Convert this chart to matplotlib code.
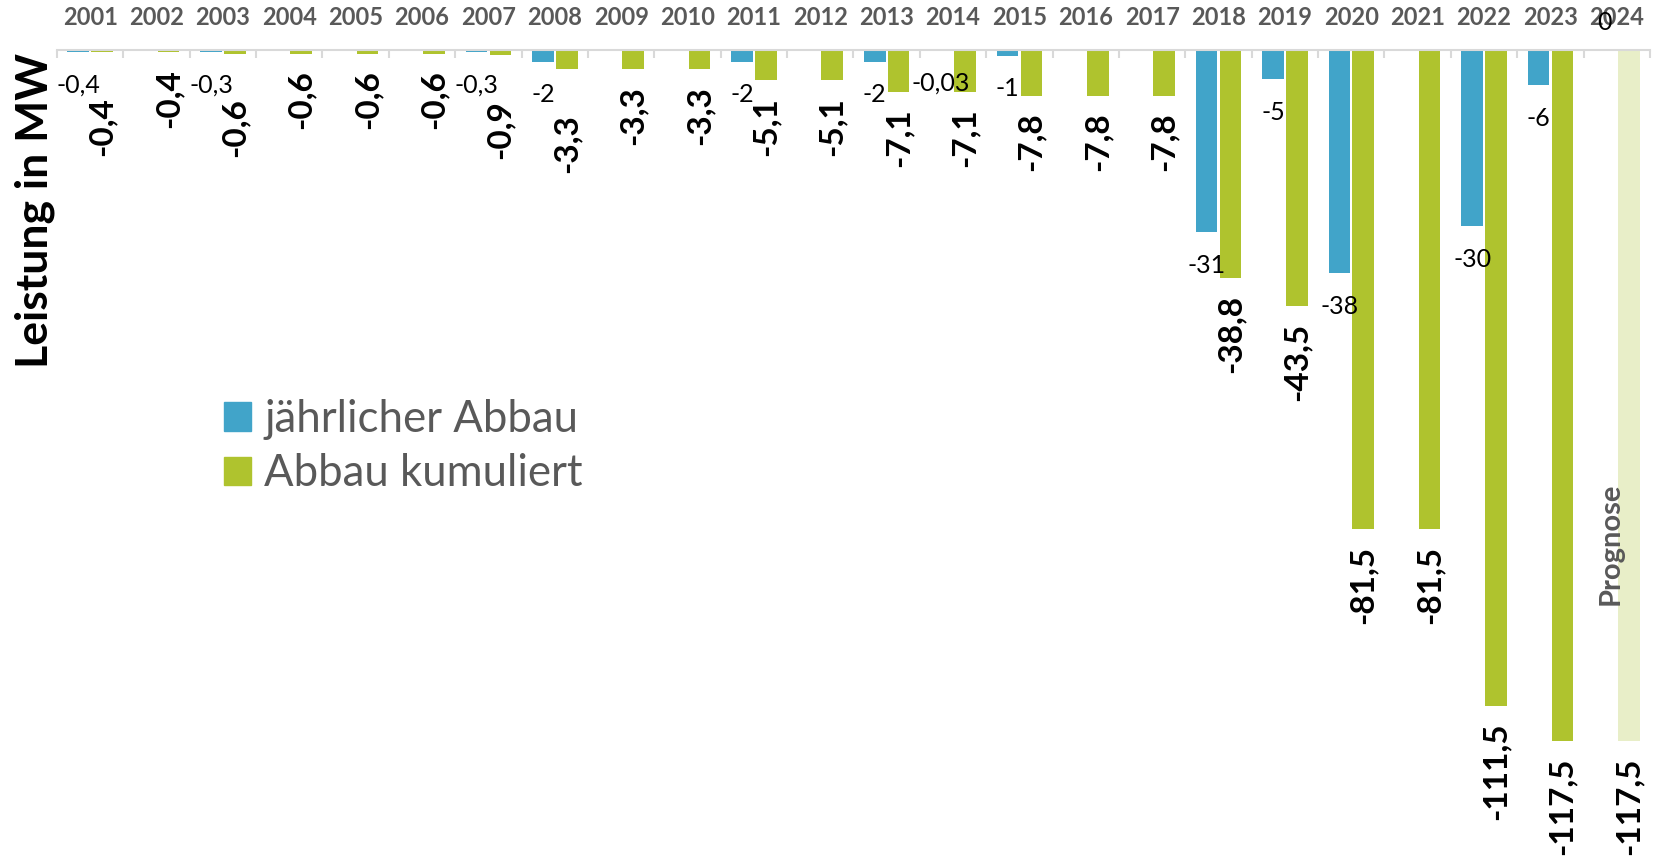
import matplotlib
matplotlib.use("Agg")
import matplotlib.pyplot as plt
from matplotlib.patches import Patch

plt.rcParams['font.family'] = ['Lato', 'DejaVu Sans']

# ---- data ----
years = [str(y) for y in range(2001, 2025)]
annual = [-0.4, None, -0.3, None, None, None, -0.3, -2, None, None, -2, None,
          -2, -0.03, -1, None, None, -31, -5, -38, None, -30, -6, 0]
cumulative = [-0.4, -0.4, -0.6, -0.6, -0.6, -0.6, -0.9, -3.3, -3.3, -3.3, -5.1, -5.1,
              -7.1, -7.1, -7.8, -7.8, -7.8, -38.8, -43.5, -81.5, -81.5, -111.5, -117.5, -117.5]
forecast_year = "2024"
series_names = ["jährlicher Abbau", "Abbau kumuliert"]
pushed_labels = ["2001", "2003", "2007", "2008"]   # cumulative labels moved down

BLUE = "#41a4c9"
GREEN = "#afc32e"
LIGHT = "#e8eec8"
GRAY = "#595959"

W, H = 1658, 857
fig = plt.figure(figsize=(W / 100, H / 100), dpi=100)
ax = fig.add_axes([57 / W, 0, 1593 / W, 1 - 50 / H])

def fmt(v):
    return f"{v:g}".replace(".", ",")

x = list(range(len(years)))
off, bw = 0.18, 0.325

for i, (yr, a, c) in enumerate(zip(years, annual, cumulative)):
    col = LIGHT if yr == forecast_year else GREEN
    ax.bar(i + off, c, width=bw, color=col, linewidth=0)
    if a is not None and a != 0:
        ax.bar(i - off, a, width=bw, color=BLUE, linewidth=0)
    # annual labels
    if a is not None:
        dy = -33 if a != 0 else 27
        ax.annotate(fmt(a), (i - off, a), xytext=(0, dy), textcoords="offset pixels",
                    ha="center", va="center", fontsize=18, color="black")
    # cumulative labels
    gap = 45 if yr in pushed_labels else 17
    ax.annotate(fmt(c), (i + off, c), xytext=(0, -gap), textcoords="offset pixels",
                ha="center", va="top", rotation=90, fontsize=24,
                fontweight="bold", color="black")

ax.text(len(years) - 1 - 0.1, -84, "Prognose", rotation=90, ha="center", va="center",
        fontsize=21, fontweight="bold", color=GRAY)

ax.set_xlim(-0.5, len(years) - 0.5)
ax.set_ylim(-(H - 50) / 5.88, 0)

for s in ["left", "right", "bottom"]:
    ax.spines[s].set_visible(False)
ax.spines["top"].set_color("#d9d9d9")
ax.spines["top"].set_linewidth(1.5)
ax.set_yticks([])

ax.xaxis.tick_top()
ax.set_xticks(x)
ax.set_xticklabels(years, fontsize=17, fontweight="bold", color=GRAY)
ax.tick_params(axis="x", which="major", length=0, pad=15)
ax.set_xticks([i - 0.5 for i in range(len(years) + 1)], minor=True)
ax.tick_params(axis="x", which="minor", direction="in", length=6, width=1.5,
               color="#d9d9d9", top=True, bottom=False)

fig.text(35 / W, 1 - 211 / H, "Leistung in MW", rotation=90, ha="center", va="center",
         fontsize=32, fontweight="bold", color="black")

handles = [Patch(color=BLUE), Patch(color=GREEN)]
leg = ax.legend(handles, series_names, loc="upper left",
                bbox_to_anchor=(224 / W, 1 - 399 / H), bbox_transform=fig.transFigure,
                frameon=False, fontsize=31.5, handlelength=0.62, handleheight=0.62,
                handletextpad=0.3, labelspacing=0.3, borderaxespad=0, borderpad=0)
for t in leg.get_texts():
    t.set_color(GRAY)

fig.savefig("out.png", dpi=100)
